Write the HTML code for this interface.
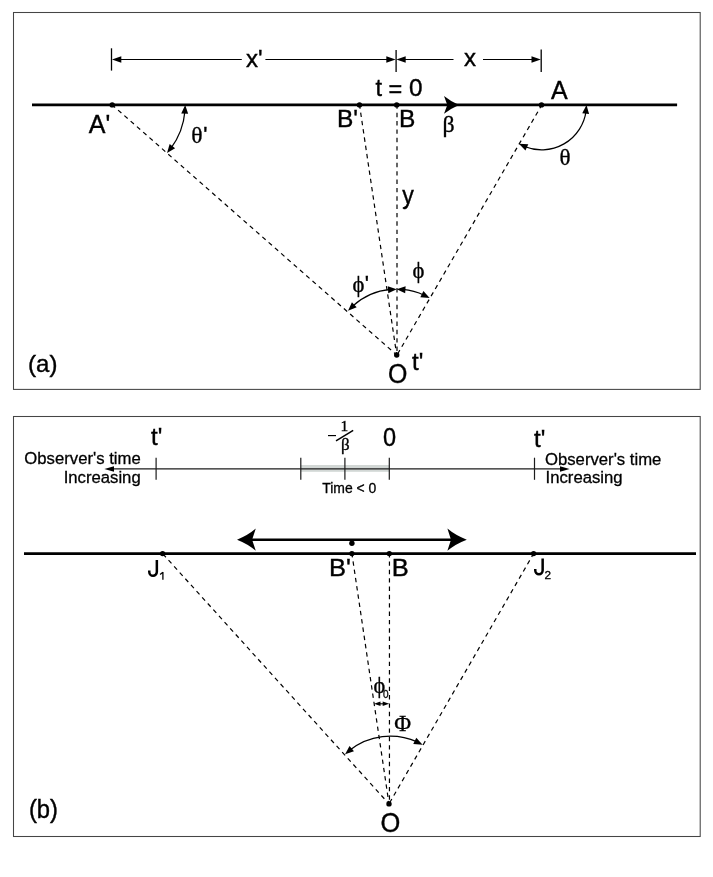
<!DOCTYPE html>
<html lang="en">
<head>
<meta charset="utf-8">
<title>Figure</title>
<style>
html,body{margin:0;padding:0;background:#fff;}
body{width:713px;height:877px;overflow:hidden;}
svg{display:block;will-change:transform;}
.ss{font-family:"Liberation Sans",sans-serif;fill:#000;stroke:#000;stroke-width:0.4px;}
.sm{font-family:"Liberation Sans",sans-serif;fill:#000;stroke:#000;stroke-width:0.3px;}
.sf{font-family:"Liberation Serif",serif;fill:#000;stroke:#000;stroke-width:0.35px;}
</style>
</head>
<body>
<svg width="713" height="877" viewBox="0 0 713 877">
<rect x="0" y="0" width="713" height="877" fill="#fff"/>
<rect x="13.5" y="12.5" width="686.7" height="376.9" fill="#fff" stroke="#454545" stroke-width="1.05"/>
<rect x="13.5" y="416.5" width="686.7" height="420" fill="#fff" stroke="#454545" stroke-width="1.05"/>
<line x1="111.5" y1="48.3" x2="111.5" y2="70.6" stroke="#000" stroke-width="1.3"/>
<line x1="396.1" y1="50" x2="396.1" y2="72.1" stroke="#000" stroke-width="1.3"/>
<line x1="541.2" y1="49.5" x2="541.2" y2="72" stroke="#000" stroke-width="1.3"/>
<line x1="118" y1="59.5" x2="241.8" y2="59.5" stroke="#000" stroke-width="1.2"/>
<line x1="265.4" y1="59.5" x2="390" y2="59.5" stroke="#000" stroke-width="1.2"/>
<polygon points="112,59.5 121.3,56.3 121.3,62.7" fill="#000"/>
<polygon points="395.6,59.5 386.3,62.7 386.3,56.3" fill="#000"/>
<line x1="402" y1="59.5" x2="453.5" y2="59.5" stroke="#000" stroke-width="1.2"/>
<line x1="483" y1="59.5" x2="535" y2="59.5" stroke="#000" stroke-width="1.2"/>
<polygon points="396.4,59.5 405.7,56.3 405.7,62.7" fill="#000"/>
<polygon points="540.8,59.5 531.5,62.7 531.5,56.3" fill="#000"/>
<line x1="112.2" y1="104.9" x2="396.7" y2="355" stroke="#000" stroke-width="1.2" stroke-dasharray="4.4 3.95" fill="none" stroke-dashoffset="0.5"/>
<line x1="359.5" y1="104.9" x2="396.7" y2="355" stroke="#000" stroke-width="1.2" stroke-dasharray="4.4 3.95" fill="none" stroke-dashoffset="0.5"/>
<line x1="397" y1="104.9" x2="397" y2="355" stroke="#000" stroke-width="1.2" stroke-dasharray="4.4 3.95" fill="none" stroke-dashoffset="0.5"/>
<line x1="541.8" y1="104.9" x2="397" y2="355" stroke="#000" stroke-width="1.2" stroke-dasharray="4.4 3.95" fill="none" stroke-dashoffset="0.5"/>
<line x1="32" y1="104.9" x2="677.1" y2="104.9" stroke="#000" stroke-width="2.7"/>
<path d="M459,104.9 Q450.5,101.3 444,96 L447.3,104.9 L444,113.8 Q450.5,108.5 459,104.9 Z" fill="#000"/>
<circle cx="112.2" cy="104.9" r="2.7" fill="#000"/>
<circle cx="359.5" cy="104.9" r="2.7" fill="#000"/>
<circle cx="396.7" cy="104.9" r="2.7" fill="#000"/>
<circle cx="541.5" cy="104.9" r="2.7" fill="#000"/>
<circle cx="396.7" cy="355" r="2.7" fill="#000"/>
<path d="M184.95 110.98 A73 73 0 0 1 170.85 148.36" fill="none" stroke="#000" stroke-width="1.25"/>
<polygon points="185.2,104.9 188.13,113.79 181.24,113.38" fill="#000"/>
<polygon points="167.03,153.1 169.65,144.11 175.09,148.35" fill="#000"/>
<path d="M586.09 110.97 A45 45 0 0 1 524.41 146.53" fill="none" stroke="#000" stroke-width="1.25"/>
<polygon points="586.5,104.9 589.09,113.89 582.23,113.23" fill="#000"/>
<polygon points="518.95,143.84 528.3,144.32 525.44,150.59" fill="#000"/>
<path d="M390.62 289.48 A65.8 65.8 0 0 0 352.35 306.39" fill="none" stroke="#000" stroke-width="1.25"/>
<polygon points="396.7,289.2 388.25,293.22 387.79,286.33" fill="#000"/>
<polygon points="348.05,310.7 351.92,302.18 356.71,307.15" fill="#000"/>
<path d="M402.78 289.48 A65.8 65.8 0 0 1 424.27 295.25" fill="none" stroke="#000" stroke-width="1.25"/>
<polygon points="396.7,289.2 405.61,286.33 405.15,293.22" fill="#000"/>
<polygon points="429.67,298.06 420.34,297.3 423.4,291.11" fill="#000"/>
<text class="ss" x="246" y="67" font-size="24" text-anchor="start">x'</text>
<text class="ss" x="464" y="65.5" font-size="24" text-anchor="start">x</text>
<text class="ss" x="375.5" y="95.6" font-size="23.5" text-anchor="start">t <tspan dy='1.2'>=</tspan><tspan dy='-1.2' font-size='24.3'> 0</tspan></text>
<text class="ss" x="88.8" y="133" font-size="25" text-anchor="start">A'</text>
<text class="ss" x="336.9" y="127.3" font-size="24.5" text-anchor="start">B'</text>
<text class="ss" x="398.9" y="127.3" font-size="24.5" text-anchor="start">B</text>
<text class="ss" x="550.9" y="98.9" font-size="25" text-anchor="start">A</text>
<text class="sf" x="442.4" y="132.3" font-size="23.8" text-anchor="start">β</text>
<text class="sf" x="191.3" y="142.7" font-size="23.5" text-anchor="start">θ<tspan class='ss' font-size='22' dx='0.6' dy='-1.2'>'</tspan></text>
<text class="sf" x="559.4" y="164.6" font-size="23" text-anchor="start">θ</text>
<text class="ss" transform="translate(402.3 203.7) scale(0.89 1)" font-size="26" text-anchor="start">y</text>
<text class="sf" x="352.5" y="292.3" font-size="22.6" text-anchor="start">ϕ<tspan class='ss' font-size='22' dx='0.3' dy='-1.2'>'</tspan></text>
<text class="sf" x="412.6" y="278" font-size="22.6" text-anchor="start">ϕ</text>
<text class="ss" transform="translate(387.9 382.8) scale(0.93 1)" font-size="26.8" text-anchor="start">O</text>
<text class="ss" x="412" y="370" font-size="24" text-anchor="start">t'</text>
<text class="ss" x="28.1" y="372.4" font-size="24" text-anchor="start">(a)</text>
<rect x="301" y="465" width="88.5" height="6.8" fill="#d2d7d5"/>
<line x1="109" y1="468.95" x2="565" y2="468.95" stroke="#1c1c1c" stroke-width="1.2"/>
<polygon points="104.4,469 114,466.3 114,471.7" fill="#000"/>
<polygon points="569.6,469 560,471.7 560,466.3" fill="#000"/>
<line x1="156.1" y1="457.7" x2="156.1" y2="479.8" stroke="#1c1c1c" stroke-width="1.2"/>
<line x1="300.8" y1="457.7" x2="300.8" y2="479.8" stroke="#1c1c1c" stroke-width="1.2"/>
<line x1="344.9" y1="457.7" x2="344.9" y2="479.8" stroke="#1c1c1c" stroke-width="1.2"/>
<line x1="389.3" y1="457.7" x2="389.3" y2="479.8" stroke="#1c1c1c" stroke-width="1.2"/>
<line x1="534.5" y1="457.7" x2="534.5" y2="479.8" stroke="#1c1c1c" stroke-width="1.2"/>
<text class="ss" x="151" y="445" font-size="24" text-anchor="start">t'</text>
<text class="ss" x="534" y="446.7" font-size="24" text-anchor="start">t'</text>
<text class="ss" transform="translate(383.1 445.8) scale(0.93 1)" font-size="25.3" text-anchor="start">0</text>
<text class="sm" transform="translate(140.7 464.1) scale(0.96 1)" font-size="17.4" text-anchor="end">Observer's time</text>
<text class="sm" transform="translate(140.7 482.5) scale(0.96 1)" font-size="17.4" text-anchor="end">Increasing</text>
<text class="sm" transform="translate(545 464.8) scale(0.96 1)" font-size="17.4" text-anchor="start">Observer's time</text>
<text class="sm" transform="translate(545.6 483) scale(0.96 1)" font-size="17.4" text-anchor="start">Increasing</text>
<text class="sm" x="322.2" y="493" font-size="13.95" text-anchor="start">Time &lt; 0</text>
<line x1="328" y1="435.6" x2="336" y2="435.6" stroke="#000" stroke-width="1.15"/>
<text class="sf" x="340.6" y="430.8" font-size="15.5" text-anchor="start">1</text>
<line x1="336" y1="440.9" x2="353.2" y2="430.3" stroke="#000" stroke-width="1.5"/>
<text class="sf" x="340.9" y="450.4" font-size="17" text-anchor="start">β</text>
<line x1="162.6" y1="553.6" x2="389" y2="803.9" stroke="#000" stroke-width="1.2" stroke-dasharray="4.4 3.95" fill="none" stroke-dashoffset="-0.5"/>
<line x1="351.9" y1="553.6" x2="389" y2="803.9" stroke="#000" stroke-width="1.2" stroke-dasharray="4.4 3.95" fill="none" stroke-dashoffset="0.5"/>
<line x1="389.45" y1="553.6" x2="389.45" y2="803.9" stroke="#000" stroke-width="1.2" stroke-dasharray="4.4 3.95" fill="none" stroke-dashoffset="0.5"/>
<line x1="533.6" y1="553.6" x2="389" y2="803.9" stroke="#000" stroke-width="1.2" stroke-dasharray="4.4 3.95" fill="none" stroke-dashoffset="0.5"/>
<line x1="24" y1="553.7" x2="696" y2="553.7" stroke="#000" stroke-width="2.7"/>
<line x1="250" y1="539.7" x2="455" y2="539.7" stroke="#000" stroke-width="2.6"/>
<path d="M237,539.7 Q247.8,535.5 255.8,528.6 L252.1,539.7 L255.8,550.8 Q247.8,543.9 237,539.7 Z" fill="#000"/>
<path d="M466.8,539.7 Q455.6,535.5 447.4,528.6 L451,539.7 L447.4,550.8 Q455.6,543.9 466.8,539.7 Z" fill="#000"/>
<circle cx="351.9" cy="543.3" r="2.7" fill="#000"/>
<circle cx="162.6" cy="553.6" r="2.7" fill="#000"/>
<circle cx="351.9" cy="553.6" r="2.7" fill="#000"/>
<circle cx="389.3" cy="553.6" r="2.7" fill="#000"/>
<circle cx="533.6" cy="553.6" r="2.7" fill="#000"/>
<circle cx="389" cy="803.9" r="2.7" fill="#000"/>
<path d="M349.67 750.28 A65.45 65.45 0 0 1 417.18 741.93" fill="none" stroke="#000" stroke-width="1.25"/>
<polygon points="345.08,754.28 349.54,746.05 353.97,751.35" fill="#000"/>
<polygon points="422.61,744.68 413.28,744.01 416.28,737.79" fill="#000"/>
<line x1="378" y1="703.8" x2="385" y2="703.8" stroke="#000" stroke-width="1.1"/>
<polygon points="374,703.8 380.5,701.6 380.5,706" fill="#000"/>
<polygon points="389.2,703.8 382.7,706 382.7,701.6" fill="#000"/>
<path d="M156.85 559.9V571.75A3.8 4.1 0 0 1 149.25 571.75V570.45" fill="none" stroke="#000" stroke-width="2.5"/>
<path d="M162.9 571.9V579.7M162.9 572.2L160.1 574.4" fill="none" stroke="#000" stroke-width="1.3"/>
<path d="M542.65 558.5V570.25A3.7 4 0 0 1 535.25 570.25V568.95" fill="none" stroke="#000" stroke-width="2.5"/>
<text class="sm" x="544.6" y="578.5" font-size="11.8" text-anchor="start">2</text>
<text class="ss" transform="translate(329 576.3) scale(1.04 1)" font-size="24.5" text-anchor="start">B'</text>
<text class="ss" transform="translate(391.8 576.3) scale(1.04 1)" font-size="24.5" text-anchor="start">B</text>
<text class="sf" x="373.6" y="692.5" font-size="22.3" text-anchor="start">ϕ</text>
<text class="sm" transform="translate(383.1 697.6) scale(0.85 1)" font-size="11.8" text-anchor="start">0</text>
<text class="sf" x="394.2" y="730.7" font-size="23" text-anchor="start">Φ</text>
<text class="ss" transform="translate(380.6 831.6) scale(0.95 1)" font-size="26.8" text-anchor="start">O</text>
<text class="ss" transform="translate(28.9 817.5) scale(0.94 1)" font-size="25.3" text-anchor="start">(b)</text>
</svg>
</body>
</html>
